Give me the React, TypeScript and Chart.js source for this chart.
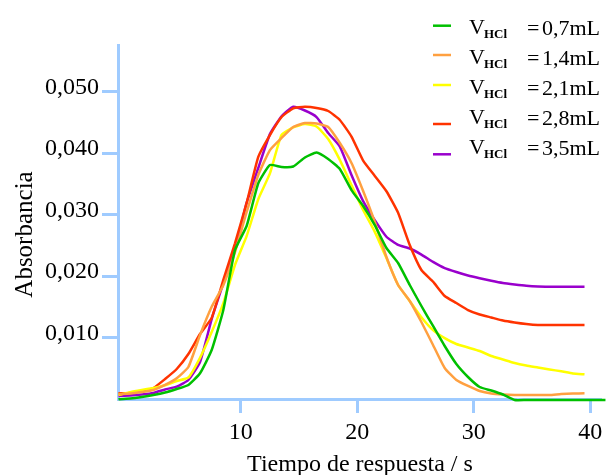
import React, { useEffect, useRef } from 'react';
import { Chart, registerables } from 'chart.js';

Chart.register(...registerables);

// Response time (s)
const times = [
  -0.5, 0.5, 1.5, 2.5, 3.5, 4.5, 5.5, 6.5, 7.5, 8.5, 9.5, 10.5, 11.5, 12.5, 13.5, 14.5,
  15.5, 16.5, 17.5, 18.5, 19.5, 20.5, 21.5, 22.5, 23.5, 24.5, 25.5, 26.5, 27.5, 28.5,
  29.5, 30.5, 31.5, 32.5, 33.5, 34.5, 35.5, 36.5, 37.5, 38.5, 39.5, 41.3,
];

// Absorbance in thousandths (x 0,001)
const v07 = [
  -0.05, 0.08, 0.33, 0.65, 1.06, 1.63, 2.28, 4.18, 7.97, 14.48, 24.24, 28.15, 35.1, 38.07,
  37.75, 37.83, 39.29, 40.11, 39.05, 37.42, 34.0, 31.4, 28.3, 24.57, 22.13, 18.55, 15.13,
  11.88, 8.62, 5.69, 3.58, 1.95, 1.38, 0.73, -0.16, -0.16, -0.16, -0.16, -0.16, -0.16, -0.16,
  -0.16,
];
const v14 = [
  0.81, 0.89, 1.14, 1.46, 2.28, 3.37, 5.21, 10.4, 15.0, 18.5, 23.9, 30.4, 36.45, 40.5, 42.47,
  44.26, 44.9, 44.83, 44.26, 41.65, 38.4, 33.84, 28.8, 23.1, 18.55, 15.95, 12.53, 8.79, 5.04,
  3.09, 2.12, 1.3, 0.89, 0.73, 0.65, 0.65, 0.65, 0.65, 0.81, 0.89, 0.93, null,
];
const v21 = [
  0.65, 1.1, 1.46, 1.79, 2.23, 2.93, 3.5, 6.7, 10.9, 15.6, 21.8, 26.5, 32.5, 36.7, 43.0, 44.2,
  44.74, 44.34, 42.3, 38.9, 34.8, 30.75, 27.2, 22.94, 18.55, 15.95, 13.3, 11.2, 9.9, 8.95,
  8.38, 7.81, 7.0, 6.43, 5.86, 5.45, 5.13, 4.8, 4.51, 4.15, 4.02, null,
];
const v28 = [
  0.93, 0.98, 1.3, 1.79, 3.25, 4.88, 7.32, 10.58, 13.2, 19.4, 25.33, 31.9, 39.4, 42.95, 45.88,
  47.3, 47.54, 47.35, 46.86, 45.4, 42.7, 38.8, 36.3, 33.8, 30.3, 25.06, 20.99, 19.09, 16.76,
  15.62, 14.48, 13.75, 13.26, 12.77, 12.45, 12.2, 12.04, 12.04, 12.04, 12.04, 12.04, null,
];
const v35 = [
  0.49, 0.57, 0.73, 0.98, 1.55, 2.0, 3.09, 6.0, 13.0, 18.8, 24.24, 31.9, 37.59, 43.1, 46.0,
  47.56, 46.94, 45.88, 43.28, 41.08, 36.45, 32.2, 29.1, 26.4, 25.06, 24.49, 23.5, 22.3, 21.3,
  20.66, 20.09, 19.64, 19.23, 18.87, 18.63, 18.42, 18.3, 18.27, 18.27, 18.27, 18.27, null,
];

const seriesValues = [v07, v14, v21, v28, v35];
const volumeLabels = ['0,7mL', '1,4mL', '2,1mL', '2,8mL', '3,5mL'];
const seriesColors = ['#00c000', '#ffa040', '#ffff00', '#ff3300', '#9900cc'];

const xTicks = [10, 20, 30, 40];
const yTicks = [10, 20, 30, 40, 50];

const xTitle = 'Tiempo de respuesta / s';
const yTitle = 'Absorbancia';

const FONT = "'Liberation Serif', 'Times New Roman', serif";
const AXIS = '#9fcbff';

const overlayPlugin = {
  id: 'overlay',
  afterDraw(chart: any) {
    const ctx = chart.ctx as CanvasRenderingContext2D;
    ctx.save();
    ctx.fillStyle = '#000';
    ctx.textBaseline = 'alphabetic';
    // axis titles
    ctx.font = `24px ${FONT}`;
    ctx.textAlign = 'center';
    ctx.fillText(xTitle, 360, 471);
    ctx.save();
    ctx.translate(31.5, 234.5);
    ctx.rotate(-Math.PI / 2);
    ctx.font = `25px ${FONT}`;
    ctx.fillText(yTitle, 0, 0);
    ctx.restore();
    // legend
    const markerYs = [25.7, 55, 85, 124, 154.3];
    ctx.textAlign = 'left';
    volumeLabels.forEach((lab, i) => {
      ctx.strokeStyle = seriesColors[i];
      ctx.lineWidth = 2.5;
      ctx.beginPath();
      ctx.moveTo(433, markerYs[i]);
      ctx.lineTo(451, markerYs[i]);
      ctx.stroke();
      const base = 34 + 30 * i;
      ctx.fillStyle = '#000';
      ctx.font = `22px ${FONT}`;
      ctx.fillText('V', 469, base);
      ctx.font = `bold 13px ${FONT}`;
      ctx.fillText('HCl', 484, base + 4);
      ctx.font = `22px ${FONT}`;
      ctx.fillText('=', 527, base + 1);
      ctx.fillText(lab, 542, base + 1);
    });
    ctx.restore();
  },
};

export default function App() {
  const ref = useRef<HTMLCanvasElement | null>(null);
  useEffect(() => {
    if (!ref.current) return;
    const chart = new Chart(ref.current, {
      type: 'line',
      data: {
        datasets: seriesValues.map((vals, i) => ({
          label: volumeLabels[i],
          data: times.map((t, j) => ({ x: t, y: vals[j] as any })),
          borderColor: seriesColors[i],
          backgroundColor: seriesColors[i],
          borderWidth: 2.5,
          pointRadius: 0,
          tension: 0.15,
          fill: false,
          clip: 12,
        })),
      },
      plugins: [overlayPlugin],
      options: {
        animation: false,
        responsive: false,
        devicePixelRatio: 1,
        layout: { padding: { left: 0, top: 45, right: 6, bottom: 0 } },
        plugins: { legend: { display: false }, tooltip: { enabled: false } },
        scales: {
          x: {
            type: 'linear',
            min: -0.54,
            max: 40.83,
            afterBuildTicks: (s: any) => {
              s.ticks = xTicks.map((v) => ({ value: v }));
            },
            afterFit: (s: any) => {
              s.height = 76;
              s.paddingLeft = 0;
              s.paddingRight = 0;
            },
            border: { display: true, color: AXIS, width: 3 },
            grid: { display: true, drawOnChartArea: false, drawTicks: true, tickLength: 14, color: AXIS, lineWidth: 3 },
            ticks: {
              color: '#000',
              font: { family: FONT, size: 24 },
              padding: 5,
              maxRotation: 0,
              callback: (v: any) => String(v),
            },
            title: { display: false },
          },
          y: {
            type: 'linear',
            min: 0,
            max: 57.6,
            afterBuildTicks: (s: any) => {
              s.ticks = yTicks.map((v) => ({ value: v }));
            },
            afterFit: (s: any) => {
              s.width = 118;
              s.paddingTop = 0;
              s.paddingBottom = 0;
            },
            border: { display: true, color: AXIS, width: 3 },
            grid: { display: true, drawOnChartArea: false, drawTicks: true, tickLength: 16, color: AXIS, lineWidth: 3 },
            ticks: {
              color: '#000',
              font: { family: FONT, size: 24 },
              padding: 3,
              labelOffset: -4,
              callback: (v: any) => (Number(v) / 1000).toFixed(3).replace('.', ','),
            },
            title: { display: false },
          },
        },
      },
    });
    return () => chart.destroy();
  }, []);
  return (
    <div style={{ position: 'fixed', left: 0, top: 0, width: 606, height: 475, background: '#fff' }}>
      <canvas ref={ref} width={606} height={475} style={{ display: 'block' }} />
    </div>
  );
}
